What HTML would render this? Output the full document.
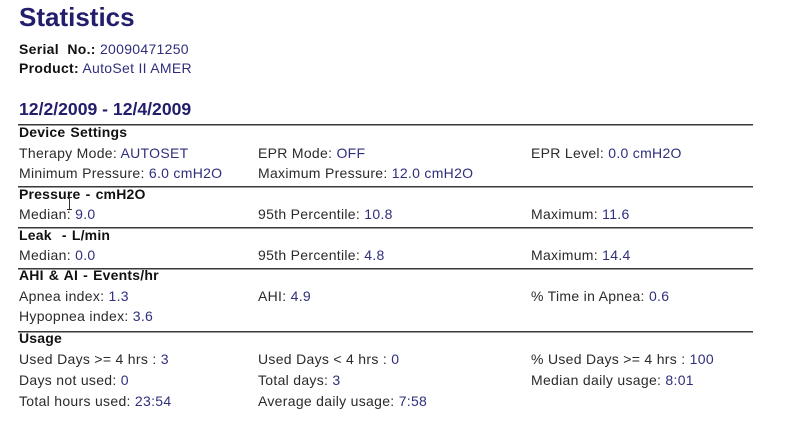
<!DOCTYPE html>
<html>
<head>
<meta charset="utf-8">
<style>
  html, body { margin: 0; padding: 0; background: #ffffff; }
  body { width: 799px; height: 438px; position: relative; overflow: hidden;
         font-family: "Liberation Sans", Arial, sans-serif; }
  .t { position: absolute; white-space: nowrap; line-height: 1; font-size: 14px; color: #2a2a2a; letter-spacing: 0.3px; }
  .v { color: #2f2f7c; }
  .h { font-weight: bold; color: #111; word-spacing: 1px; letter-spacing: 0.2px; }
  .hr { position: absolute; left: 18px; width: 735px; height: 1px; background: #3a3a3a;
        box-shadow: 0 1px 0 #9a9a9a; }
</style>
</head>
<body>
  <div class="t" style="left:19px; top:4px; font-size:26px; font-weight:bold; color:#221e6c; letter-spacing:0;">Statistics</div>
  <div class="t" style="left:19px; top:41.5px;"><b style="color:#111">Serial&nbsp; No.:</b> <span class="v">20090471250</span></div>
  <div class="t" style="left:19px; top:61px;"><b style="color:#111">Product:</b> <span class="v">AutoSet II AMER</span></div>

  <div class="t" style="left:19px; top:100.7px; font-size:17.6px; font-weight:bold; color:#221e6c; letter-spacing:0;">12/2/2009 - 12/4/2009</div>

  <div class="hr" style="top:124px;"></div>
  <div class="t h" style="left:19px; top:125.2px;">Device Settings</div>
  <div class="t" style="left:19px; top:145.7px;">Therapy Mode: <span class="v">AUTOSET</span></div>
  <div class="t" style="left:258px; top:145.7px;">EPR Mode: <span class="v">OFF</span></div>
  <div class="t" style="left:531px; top:145.7px;">EPR Level: <span class="v">0.0 cmH2O</span></div>
  <div class="t" style="left:19px; top:165.7px;">Minimum Pressure: <span class="v">6.0 cmH2O</span></div>
  <div class="t" style="left:258px; top:165.7px;">Maximum Pressure: <span class="v">12.0 cmH2O</span></div>

  <div class="hr" style="top:186px;"></div>
  <div class="t h" style="left:19px; top:186.7px;">Pressure - cmH2O</div>
  <div class="t" style="left:19px; top:207.2px;">Median: <span class="v">9.0</span></div>
  <div class="t" style="left:258px; top:207.2px;">95th Percentile: <span class="v">10.8</span></div>
  <div class="t" style="left:531px; top:207.2px;">Maximum: <span class="v">11.6</span></div>
  <!-- cursor I-beam -->
  <div style="position:absolute; left:69px; top:197px; width:1px; height:13px; background:#333;"></div>
  <div style="position:absolute; left:67px; top:197px; width:5px; height:1px; background:#333;"></div>
  <div style="position:absolute; left:67px; top:209px; width:5px; height:1px; background:#333;"></div>

  <div class="hr" style="top:227px;"></div>
  <div class="t h" style="left:19px; top:227.7px;">Leak&nbsp; - L/min</div>
  <div class="t" style="left:19px; top:248.2px;">Median: <span class="v">0.0</span></div>
  <div class="t" style="left:258px; top:248.2px;">95th Percentile: <span class="v">4.8</span></div>
  <div class="t" style="left:531px; top:248.2px;">Maximum: <span class="v">14.4</span></div>

  <div class="hr" style="top:268px;"></div>
  <div class="t h" style="left:19px; top:268.2px;">AHI &amp; AI - Events/hr</div>
  <div class="t" style="left:19px; top:288.9px;">Apnea index: <span class="v">1.3</span></div>
  <div class="t" style="left:258px; top:288.9px;">AHI: <span class="v">4.9</span></div>
  <div class="t" style="left:531px; top:288.9px;">% Time in Apnea: <span class="v">0.6</span></div>
  <div class="t" style="left:19px; top:309.2px;">Hypopnea index: <span class="v">3.6</span></div>

  <div class="hr" style="top:330.5px;"></div>
  <div class="t h" style="left:19px; top:331.2px;">Usage</div>
  <div class="t" style="left:19px; top:351.5px;">Used Days &gt;= 4 hrs : <span class="v">3</span></div>
  <div class="t" style="left:258px; top:351.5px;">Used Days &lt; 4 hrs : <span class="v">0</span></div>
  <div class="t" style="left:531px; top:351.5px;">% Used Days &gt;= 4 hrs : <span class="v">100</span></div>
  <div class="t" style="left:19px; top:372.5px;">Days not used: <span class="v">0</span></div>
  <div class="t" style="left:258px; top:372.5px;">Total days: <span class="v">3</span></div>
  <div class="t" style="left:531px; top:372.5px;">Median daily usage: <span class="v">8:01</span></div>
  <div class="t" style="left:19px; top:393.9px;">Total hours used: <span class="v">23:54</span></div>
  <div class="t" style="left:258px; top:393.9px;">Average daily usage: <span class="v">7:58</span></div>
</body>
</html>
